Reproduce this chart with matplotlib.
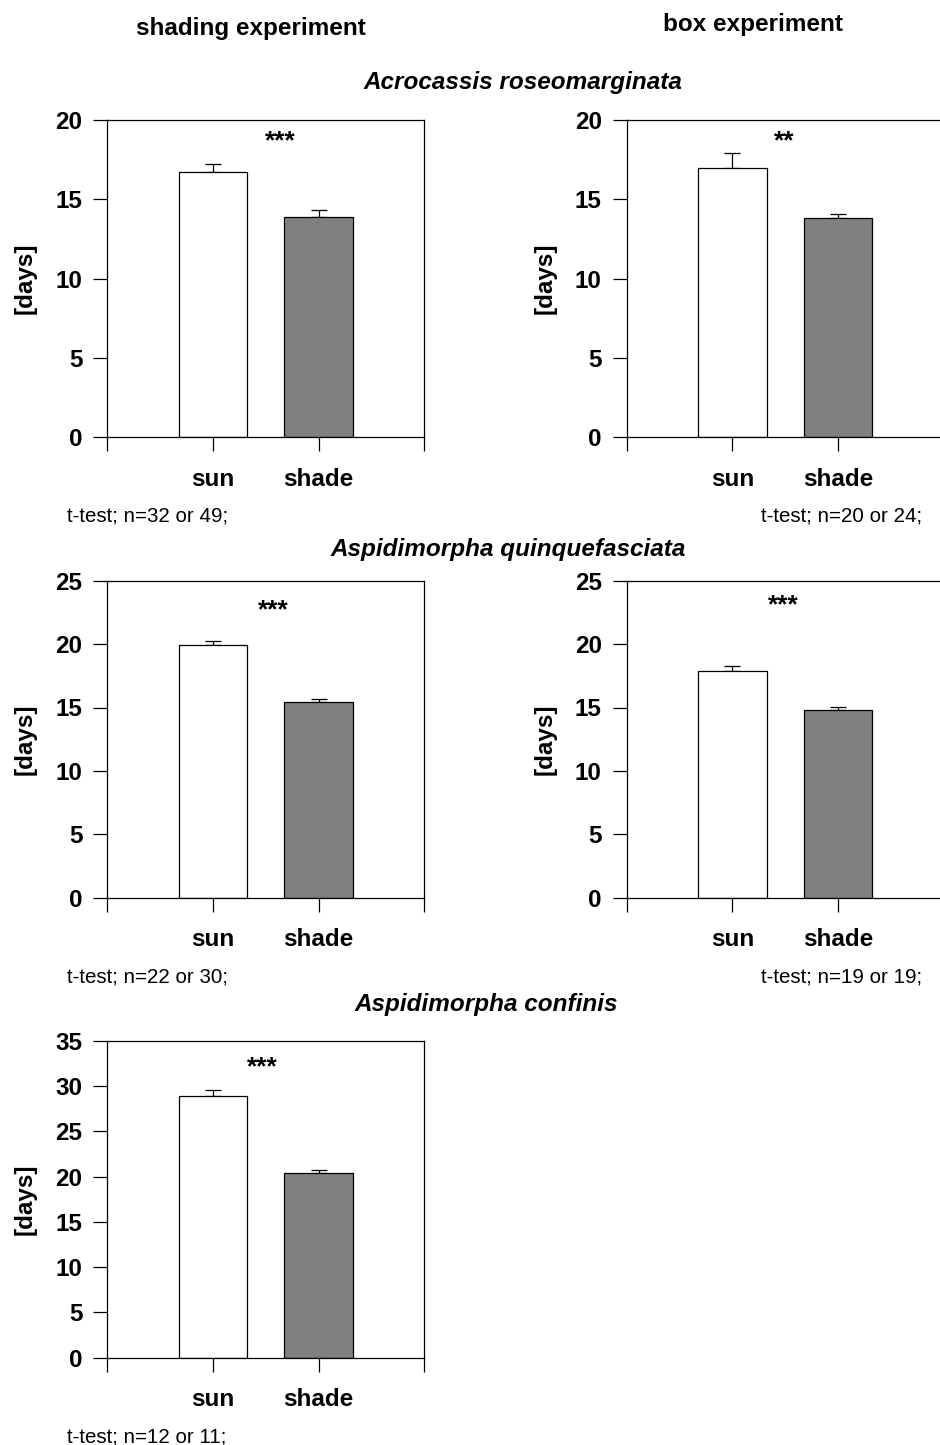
import numpy as np
import matplotlib
matplotlib.use('Agg')
import matplotlib.pyplot as plt

plt.rcParams['font.family'] = ['Liberation Sans', 'DejaVu Sans']

# Werte (Mittelwert + SE)
categories = ['sun', 'shade']
sun_means = [16.72, 16.97, 19.89, 17.88, 28.9]
sun_err = [0.53, 0.95, 0.36, 0.40, 0.70]
shade_means = [13.90, 13.82, 15.44, 14.78, 20.36]
shade_err = [0.42, 0.28, 0.26, 0.24, 0.33]
y_max = [20, 20, 25, 25, 35]
stars = ['***', '**', '***', '***', '***']
n_labels = ['t-test; n=32 or 49;', 't-test; n=20 or 24;', 't-test; n=22 or 30;',
            't-test; n=19 or 19;', 't-test; n=12 or 11;']
species = ['Acrocassis roseomarginata', 'Aspidimorpha quinquefasciata', 'Aspidimorpha confinis']
columns = ['shading experiment', 'box experiment']

W, H = 940, 1445
BIG = 17.5
fig = plt.figure(figsize=(W / 100, H / 100), dpi=100)


def box(left, top, width, height):
    return [left / W, 1 - (top + height) / H, width / W, height / H]


# Position der Achsen in Pixeln (links, oben)
lefts = [107.3, 626.7, 107.3, 626.7, 107.3]
tops = [120, 120, 580.7, 580.7, 1040.7]
star_pos = [(0.546, 0.932), (0.496, 0.932), (0.525, 0.907), (0.494, 0.922), (0.49, 0.916)]
n_pos = [(67, 'left'), (922, 'right'), (67, 'left'), (922, 'right'), (67, 'left')]

for i in range(5):
    ax = fig.add_axes(box(lefts[i], tops[i], 317, 317))
    x = np.arange(1, 3)
    vals = [sun_means[i], shade_means[i]]
    errs = [sun_err[i], shade_err[i]]
    ax.bar(x, vals, width=0.65, color=['white', '#808080'], edgecolor='black',
           linewidth=0.9, zorder=2)
    ax.errorbar(x, vals, yerr=[[0, 0], errs], fmt='none', ecolor='black',
                elinewidth=0.9, capsize=5.5, capthick=0.9, zorder=1)
    ax.set_xlim(0, 3)
    ax.set_ylim(0, y_max[i])
    ax.set_yticks(np.arange(0, y_max[i] + 1, 5))
    ax.set_xticks([0, 1, 2, 3])
    ax.set_xticklabels([''] + categories + [''])
    ax.tick_params(direction='out', length=10, width=0.9, labelsize=BIG,
                   top=False, right=False)
    ax.tick_params(axis='y', pad=8)
    ax.tick_params(axis='x', pad=12)
    for lbl in ax.get_xticklabels() + ax.get_yticklabels():
        lbl.set_fontweight('bold')
    for sp in ax.spines.values():
        sp.set_linewidth(0.9)
    ax.set_ylabel('[days]', fontsize=BIG, fontweight='bold')
    ax.yaxis.set_label_coords(-0.222, 0.5)
    ax.text(star_pos[i][0], star_pos[i][1], stars[i], transform=ax.transAxes,
            ha='center', va='center', fontsize=19, fontweight='bold')
    ny = tops[i] + 317 + 79
    fig.text(n_pos[i][0] / W, 1 - ny / H, n_labels[i], ha=n_pos[i][1], va='center',
             fontsize=14.8)

fig.text(251 / W, 1 - 28 / H, columns[0], ha='center', va='center', fontsize=BIG, fontweight='bold')
fig.text(753 / W, 1 - 25 / H, columns[1], ha='center', va='center', fontsize=BIG, fontweight='bold')

sp_y = [82, 549, 1004]
sp_x = [523, 508, 486]
for name, sx, sy in zip(species, sp_x, sp_y):
    fig.text(sx / W, 1 - sy / H, name, ha='center', va='center', fontsize=BIG,
             fontweight='bold', style='italic')

fig.savefig('out.png', dpi=100)
